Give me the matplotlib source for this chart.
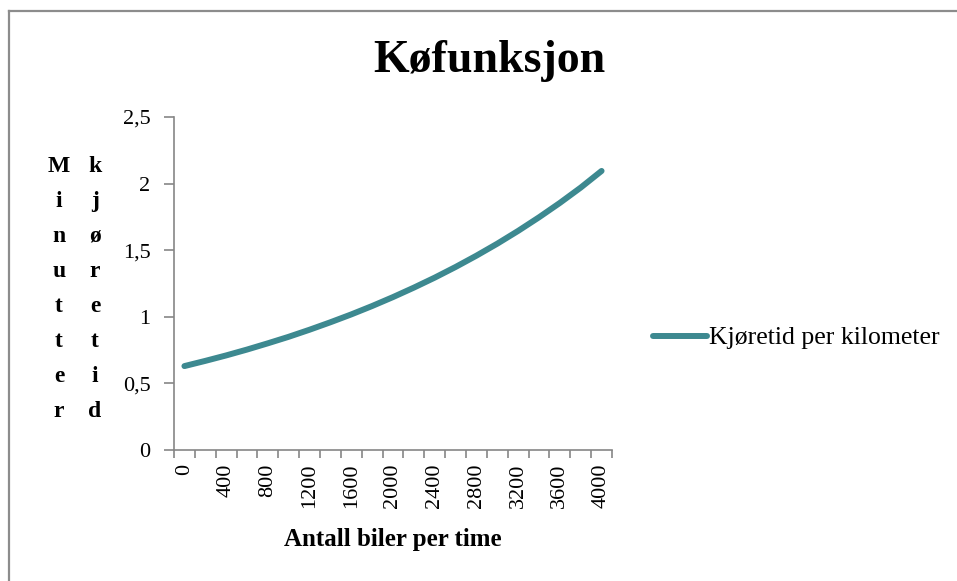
import matplotlib.pyplot as plt
from matplotlib.lines import Line2D

# data
biler = [0, 200, 400, 600, 800, 1000, 1200, 1400, 1600, 1800, 2000,
         2200, 2400, 2600, 2800, 3000, 3200, 3400, 3600, 3800, 4000]
kjoretid = [0.630, 0.669, 0.710, 0.754, 0.801, 0.850, 0.903, 0.959, 1.018,
            1.081, 1.148, 1.219, 1.294, 1.374, 1.459, 1.549, 1.645, 1.747,
            1.855, 1.970, 2.095]
y_ticks = [0, 0.5, 1, 1.5, 2, 2.5]
y_ticklabels = ['0', '0,5', '1', '1,5', '2', '2,5']
series_name = 'Kjøretid per kilometer'
ylabel_words = ['Minutter', 'kjøretid']

font = 'Liberation Serif'
grey = '#868686'
teal = '#3d8990'

W, H = 957, 581
fig = plt.figure(figsize=(W / 100, H / 100), dpi=100)
ax = fig.add_axes([174 / W, 1 - 450 / H, (612 - 174) / W, (450 - 117) / H])

xpos = list(range(len(biler)))
line, = ax.plot(xpos, kjoretid, color=teal, lw=4.3, solid_capstyle='round',
                solid_joinstyle='round')

ax.set_xlim(-0.5, len(biler) - 0.5)
ax.set_ylim(0, 2.5)
ax.set_yticks(y_ticks)
ax.set_yticklabels(y_ticklabels, fontfamily=font, fontsize=16)

# tick marks between categories, labels on every other category
ax.set_xticks([i - 0.5 for i in range(len(biler) + 1)])
ax.set_xticklabels([])
ax.set_xticks(xpos[::2], minor=True)
ax.set_xticklabels([str(b) for b in biler[::2]], minor=True, rotation=90,
                   fontfamily=font, fontsize=16, va='top')
ax.tick_params(axis='x', which='major', length=6, width=1.2, color=grey)
ax.tick_params(axis='x', which='minor', length=0, pad=10)
ax.tick_params(axis='y', length=7, width=1.2, color=grey, pad=10)

for s in ['top', 'right']:
    ax.spines[s].set_visible(False)
for s in ['left', 'bottom']:
    ax.spines[s].set_color(grey)
    ax.spines[s].set_linewidth(1.2)

ax.set_xlabel('Antall biler per time', fontfamily=font, fontsize=18,
              fontweight='bold', labelpad=14)

fig.text(489 / W, 1 - 72 / H, 'Køfunksjon', ha='center', va='baseline',
         fontfamily=font, fontsize=33, fontweight='bold')

# stacked vertical y label, one letter per row
for col, word in enumerate(ylabel_words):
    x = (59 + 36 * col) / W
    for row, ch in enumerate(word):
        fig.text(x, 1 - (172 + 35 * row) / H, ch, ha='center', va='baseline',
                 fontfamily=font, fontsize=17, fontweight='bold')

# legend
fig.legend([line], [series_name], loc='center left',
           bbox_to_anchor=(640 / W, 1 - 338 / H), frameon=False,
           prop={'family': font, 'size': 18.5}, handlelength=2.1,
           handletextpad=0.1, borderpad=0)

# chart border (left and top edges visible)
fig.add_artist(Line2D([8.5 / W, 8.5 / W], [0, 1 - 10.5 / H],
                      transform=fig.transFigure, color='#8c8c8c', lw=1.6))
fig.add_artist(Line2D([8.5 / W, 1], [1 - 10.5 / H, 1 - 10.5 / H],
                      transform=fig.transFigure, color='#8c8c8c', lw=1.6))

fig.savefig('out.png', dpi=100)
